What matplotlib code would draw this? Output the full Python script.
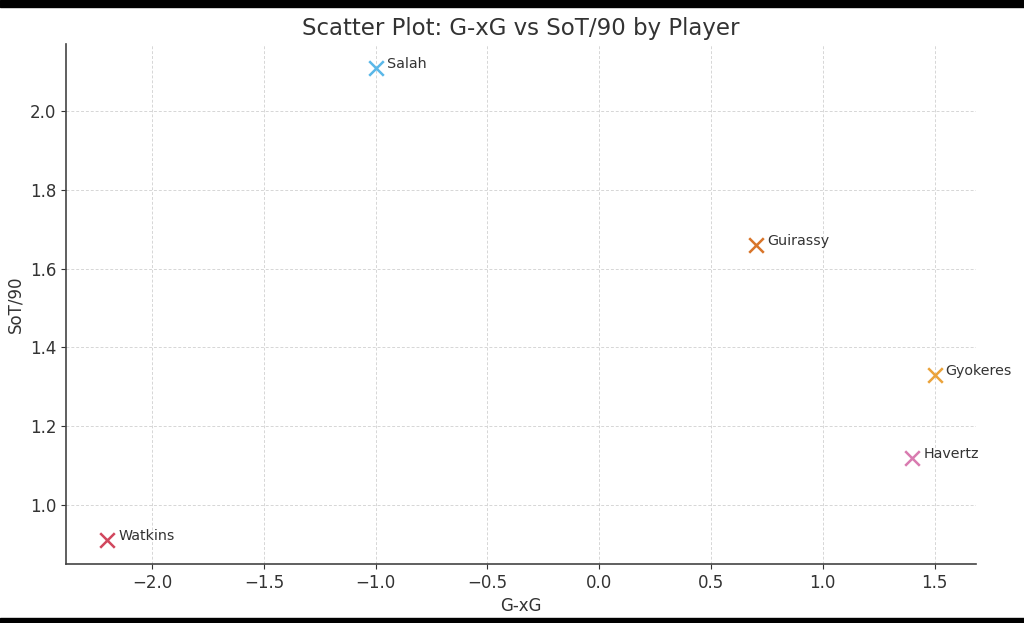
import matplotlib.pyplot as plt
from matplotlib.patches import Rectangle

players = ["Salah", "Guirassy", "Gyokeres", "Havertz", "Watkins"]
g_minus_xg = [-1.0, 0.7, 1.5, 1.4, -2.2]
sot_per_90 = [2.11, 1.66, 1.33, 1.12, 0.91]
colors = ["#5BB8E8", "#D9752A", "#EBA33B", "#D97BB0", "#D1475E"]

fig = plt.figure(figsize=(10.24, 6.23), dpi=100)
ax = fig.add_axes([0.0645, 0.0947, 0.8885, 0.8343])

for name, x, y, c in zip(players, g_minus_xg, sot_per_90, colors):
    ax.scatter(x, y, marker="x", s=110, color=c, linewidths=1.8, zorder=3)
    ax.text(x + 0.05, y + 0.01, name, fontsize=10.3, color="#333333", va="center")

ax.set_title("Scatter Plot: G-xG vs SoT/90 by Player", fontsize=16.5, color="#333333", pad=7)
ax.set_xlabel("G-xG", fontsize=12, color="#333333")
ax.set_ylabel("SoT/90", fontsize=12, color="#333333")
ax.tick_params(labelsize=12, colors="#333333")
ax.grid(True, linestyle=(0, (3, 2)), color="#d6d6d6", linewidth=0.7)
ax.set_axisbelow(True)
for side in ["top", "right"]:
    ax.spines[side].set_visible(False)
for side in ["left", "bottom"]:
    ax.spines[side].set_color("#444444")
    ax.spines[side].set_linewidth(1.2)

# black screenshot bars
fig.patches.append(Rectangle((0, 1 - 7 / 623), 1, 7 / 623, transform=fig.transFigure, color="black"))
fig.patches.append(Rectangle((0, 0), 1, 5 / 623, transform=fig.transFigure, color="black"))

fig.savefig("out.png", dpi=100)
